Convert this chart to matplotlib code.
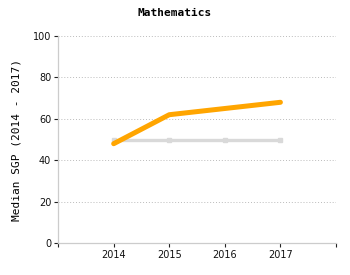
import matplotlib
matplotlib.use("Agg")
import matplotlib.pyplot as plt

years = [2014, 2015, 2016, 2017]
school_sgp = [48, 62, 65, 68]
baseline = [50, 50, 50, 50]
y_ticks = [0, 20, 40, 60, 80, 100]

fig = plt.figure(figsize=(3.5, 2.75), dpi=100)
ax = fig.add_axes([0.166, 0.116, 0.794, 0.753])

ax.plot(years, baseline, color="#d9d9d9", lw=2.4, marker="s", ms=3,
        solid_capstyle="butt", zorder=2)
ax.plot(years, school_sgp, color="#ffa500", lw=3.6,
        solid_capstyle="round", solid_joinstyle="round", zorder=3)

ax.set_xlim(2013, 2018)
ax.set_ylim(0, 100)
ax.set_xticks([2013] + years + [2018])
ax.set_xticklabels([""] + [str(y) for y in years] + [""])
ax.set_yticks(y_ticks)
ax.tick_params(labelsize=7, length=3, width=0.8, color="#222222", pad=2,
               labelcolor="#111111")
ax.yaxis.grid(True, linestyle=(0, (1, 2)), color="#bbbbbb", lw=0.7)
ax.set_axisbelow(True)

for side in ["top", "right"]:
    ax.spines[side].set_visible(False)
for side in ["left", "bottom"]:
    ax.spines[side].set_color("#cccccc")
    ax.spines[side].set_linewidth(0.9)

ax.set_ylabel("Median SGP (2014 - 2017)", family="DejaVu Sans Mono",
              fontsize=8, labelpad=8)
fig.text(0.5, 0.953, "Mathematics", family="DejaVu Sans Mono",
         fontweight="bold", fontsize=8, ha="center", va="center")

fig.savefig("out.png", dpi=100)
